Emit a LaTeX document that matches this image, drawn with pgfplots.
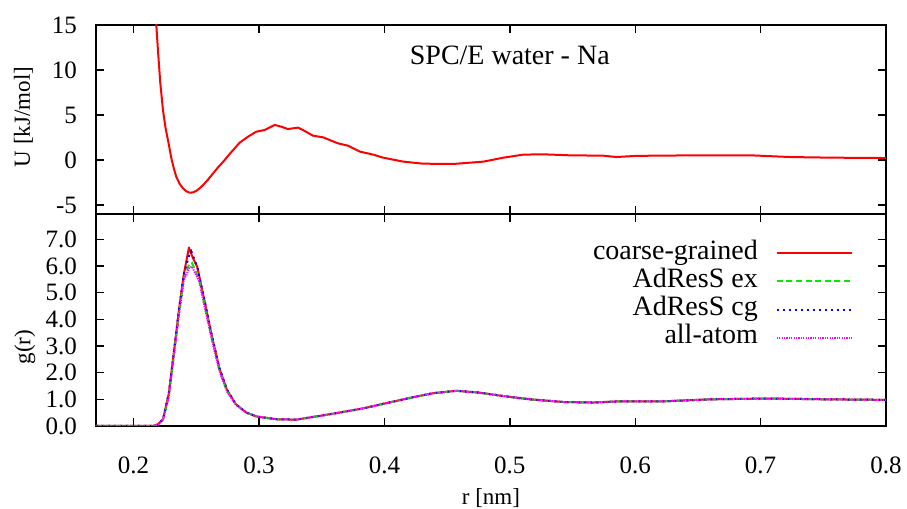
\documentclass[border=0pt]{standalone}
\usepackage{fontspec}
\setmainfont{Liberation Serif}
\usepackage{pgfplots}
\pgfplotsset{compat=1.18}
\definecolor{gpred}{RGB}{255,0,0}
\definecolor{gpgreen}{RGB}{0,235,0}
\definecolor{gpblue}{RGB}{0,0,255}
\definecolor{gpmag}{RGB}{255,0,255}
\newcommand\tfnt{\fontsize{12.5pt}{14pt}\selectfont}
\newcommand\lfnt{\fontsize{11.5pt}{13pt}\selectfont}
\newcommand\bfnt{\fontsize{14pt}{16pt}\selectfont}
\pgfplotsset{
  mystyle/.style={
    scale only axis, width=395pt,
    xmin=0.17, xmax=0.8,
    xtick={0.2,0.3,0.4,0.5,0.6,0.7,0.8},
    tick align=inside,
    axis line style={line width=0.9pt},
    every tick/.style={black, line width=0.7pt},
    major tick length=4pt,
    yticklabel style={xshift=-6pt},
  }
}
\begin{document}
\begin{tikzpicture}
\begin{axis}[mystyle, at={(0,106pt)}, anchor=south west, height=94.5pt,
  ymin=-6, ymax=15, ytick={-5,0,5,10,15}, yticklabels={{\tfnt -5},{\tfnt 0},{\tfnt 5},{\tfnt 10},{\tfnt 15}},
  xticklabels={},
  ylabel={\lfnt U [kJ/mol]},
  ylabel style={at={(axis description cs:-0.092,0.513)}, anchor=center},
]
\addplot[gpred, line width=1pt, line join=round] coordinates {
(0.214,22) (0.2165,17.5) (0.2181,15) (0.2194,12.2) (0.2213,8.52) (0.2234,5.56)
(0.2255,3.52) (0.2274,2.22) (0.2301,0.19) (0.2320,-0.9) (0.2340,-1.85) (0.2367,-2.65) (0.2394,-3.15)
(0.2420,-3.47) (0.2447,-3.63) (0.2474,-3.6) (0.25,-3.43) (0.2527,-3.15) (0.2553,-2.8) (0.2593,-2.18) (0.2633,-1.5) (0.2673,-0.82) (0.2713,-0.22)
(0.2766,0.67) (0.2806,1.3) (0.2846,1.93) (0.2912,2.59) (0.2979,3.15) (0.3045,3.33)
(0.3125,3.89) (0.3178,3.70) (0.3231,3.44) (0.3311,3.6) (0.3365,3.22)
(0.3431,2.7) (0.3511,2.52) (0.363,1.85) (0.371,1.59) (0.3804,0.93)
(0.388,0.7) (0.3915,0.58) (0.399,0.26) (0.415,-0.18) (0.431,-0.41)
(0.455,-0.44) (0.479,-0.18) (0.495,0.26) (0.511,0.6) (0.527,0.63)
(0.548,0.52) (0.5745,0.48) (0.585,0.33) (0.601,0.46) (0.649,0.52)
(0.692,0.52) (0.7235,0.33) (0.7555,0.26) (0.798,0.22) (0.8,0.22)
};
\node at (axis cs:0.5,11.67) {\bfnt SPC/E water - Na};
\end{axis}
\begin{axis}[mystyle, at={(0,0)}, anchor=south west, height=106pt,
  ymin=0, ymax=7.95, ytick={0,1,2,3,4,5,6,7},
  yticklabels={{\tfnt 0.0},{\tfnt 1.0},{\tfnt 2.0},{\tfnt 3.0},{\tfnt 4.0},{\tfnt 5.0},{\tfnt 6.0},{\tfnt 7.0}},
  xticklabels={{\tfnt 0.2},{\tfnt 0.3},{\tfnt 0.4},{\tfnt 0.5},{\tfnt 0.6},{\tfnt 0.7},{\tfnt 0.8}},
  xticklabel style={yshift=-12pt},
  xlabel={\lfnt r [nm]}, ylabel={\lfnt g(r)},
  xlabel style={at={(axis description cs:0.5,-0.34)}, anchor=center},
  ylabel style={at={(axis description cs:-0.09,0.373)}, anchor=center},
  legend style={at={(rel axis cs:0.958,0.882)}, anchor=north east, draw=none, fill=none,
    inner sep=0pt, outer sep=0pt, row sep=0pt, column sep=9pt,
    nodes={inner sep=0pt, text height=10pt, text depth=4.15pt}},
  legend plot pos=right, legend cell align=right,
  legend image code/.code={\draw[#1] (0pt,0pt) -- (37.5pt,0pt);},
]
\addplot[gpred, line width=1pt, line join=round] coordinates {
(0.17,0) (0.215,0) (0.219,0.05) (0.2234,0.25) (0.228,1.2) (0.232,2.73) (0.236,4.3)
(0.240,5.68) (0.2441,6.69) (0.2473,6.30) (0.2508,5.96) (0.2565,4.7) (0.2625,3.35)
(0.2685,2.15) (0.2745,1.35) (0.2815,0.82) (0.29,0.5) (0.2985,0.35) (0.315,0.25)
(0.33,0.24) (0.3564,0.44) (0.383,0.66) (0.399,0.83) (0.4229,1.08) (0.4389,1.23)
(0.4575,1.32) (0.4761,1.25) (0.4921,1.14) (0.516,1.0) (0.5426,0.9) (0.5666,0.88)
(0.585,0.92) (0.62,0.92) (0.66,1.0) (0.705,1.03) (0.753,1.0) (0.8,0.98)
};
\addlegendentry{\bfnt coarse-grained}
\addplot[gpgreen, line width=1pt, dash pattern=on 3pt off 1.8pt] coordinates {
(0.17,0) (0.215,0) (0.219,0.04) (0.2234,0.22) (0.228,1.1) (0.232,2.6) (0.236,4.15)
(0.240,5.5) (0.2445,6.1) (0.2465,6.12) (0.249,5.85) (0.2525,5.45) (0.2565,4.55) (0.2625,3.25)
(0.2685,2.08) (0.2745,1.3) (0.2815,0.8) (0.29,0.5) (0.2985,0.35) (0.315,0.25)
(0.33,0.24) (0.3564,0.44) (0.383,0.66) (0.399,0.83) (0.4229,1.08) (0.4389,1.23)
(0.4575,1.32) (0.4761,1.25) (0.4921,1.14) (0.516,1.0) (0.5426,0.9) (0.5666,0.88)
(0.585,0.92) (0.62,0.92) (0.66,1.0) (0.705,1.03) (0.753,1.0) (0.8,0.98)
};
\addlegendentry{\bfnt AdResS ex}
\addplot[gpblue, line width=1pt, dash pattern=on 1pt off 2pt] coordinates {
(0.17,0) (0.215,0) (0.219,0.05) (0.2234,0.25) (0.228,1.2) (0.232,2.73) (0.236,4.3)
(0.240,5.68) (0.2446,6.45) (0.246,6.55) (0.2485,6.25) (0.2508,5.96) (0.2565,4.72) (0.2625,3.37)
(0.2685,2.16) (0.2745,1.36) (0.2815,0.82) (0.29,0.5) (0.2985,0.35) (0.315,0.25)
(0.33,0.24) (0.3564,0.44) (0.383,0.66) (0.399,0.83) (0.4229,1.08) (0.4389,1.23)
(0.4575,1.32) (0.4761,1.25) (0.4921,1.14) (0.516,1.0) (0.5426,0.9) (0.5666,0.88)
(0.585,0.92) (0.62,0.92) (0.66,1.0) (0.705,1.03) (0.753,1.0) (0.8,0.98)
};
\addlegendentry{\bfnt AdResS cg}
\addplot[gpmag, line width=1pt, dash pattern=on 0.6pt off 0.6pt] coordinates {
(0.17,0) (0.215,0) (0.219,0.04) (0.2234,0.22) (0.228,1.08) (0.232,2.58) (0.236,4.1)
(0.240,5.45) (0.2445,5.95) (0.2465,5.98) (0.249,5.75) (0.2525,5.4) (0.2565,4.5) (0.2625,3.22)
(0.2685,2.06) (0.2745,1.3) (0.2815,0.8) (0.29,0.5) (0.2985,0.35) (0.315,0.25)
(0.33,0.24) (0.3564,0.44) (0.383,0.66) (0.399,0.83) (0.4229,1.08) (0.4389,1.23)
(0.4575,1.32) (0.4761,1.25) (0.4921,1.14) (0.516,1.0) (0.5426,0.9) (0.5666,0.88)
(0.585,0.92) (0.62,0.92) (0.66,1.0) (0.705,1.03) (0.753,1.0) (0.8,0.98)
};
\addlegendentry{\bfnt all-atom}
\end{axis}
\pgfresetboundingbox
\path (-48pt,-41.5pt) rectangle (405.5pt,213pt);
\end{tikzpicture}
\end{document}
